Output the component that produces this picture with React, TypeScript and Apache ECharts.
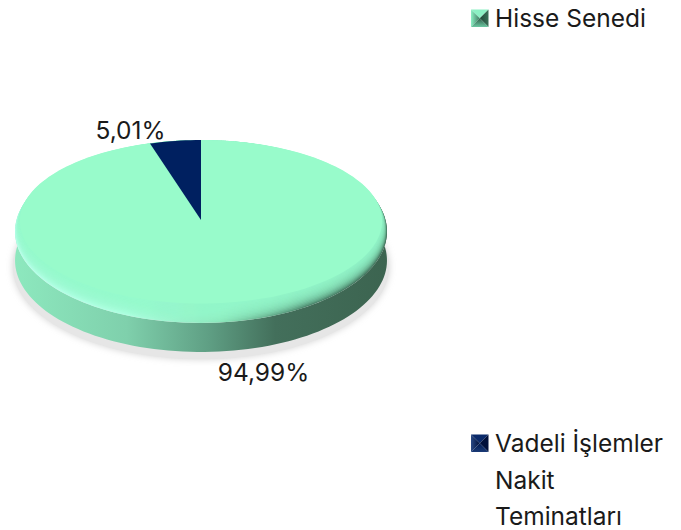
import React, { useEffect, useRef } from "react";
import * as echarts from "echarts";

const sliceNames = ["Hisse Senedi", "Vadeli İşlemler Nakit Teminatları"];
const sliceValues = [94.99, 5.01];
const sliceLabels = ["94,99%", "5,01%"];
const sliceColors = ["#98FBCB", "#002060"];
const legendLines = [["Hisse Senedi"], ["Vadeli İşlemler", "Nakit", "Teminatları"]];

const FONT = "Inter, 'Open Sans', sans-serif";
const CX = 201, CY = 220, A = 184.5, B = 90, K = 0.1257, DEPTH = 29;
const STEPS = 180;

// perspective projection of a point on the unit disc (angle clockwise from 12 o'clock)
function proj(theta: number, r = 1, dy = 0): [number, number] {
  const x = r * Math.sin(theta), y = r * Math.cos(theta);
  const w = 1 + K * y;
  return [CX + (A * x) / w, CY - (B * y) / w + dy];
}
function arc(a0: number, a1: number, r = 1, dy = 0) {
  const pts: [number, number][] = [];
  const n = Math.max(2, Math.ceil((Math.abs(a1 - a0) / (2 * Math.PI)) * STEPS));
  for (let i = 0; i <= n; i++) pts.push(proj(a0 + ((a1 - a0) * i) / n, r, dy));
  return pts;
}
const total = sliceValues.reduce((a, b) => a + b, 0);
const sliceAngles = [
  [0, (sliceValues[0] / total) * 2 * Math.PI],
  [(sliceValues[0] / total) * 2 * Math.PI, 2 * Math.PI],
];
const RIGHT = Math.PI / 2 - 0.33;
const LEFT = (3 * Math.PI) / 2 + 0.33;

function makeSeries(idx: number) {
  return {
    type: "custom",
    name: sliceNames[idx],
    coordinateSystem: "none",
    silent: true,
    z: 5,
    data: [[sliceValues[idx]]],
    renderItem: () => {
      const [a0, a1] = sliceAngles[idx];
      if (idx === 0) return { type: "group", children: [] };
      return {
        type: "polygon",
        shape: { points: [[CX, CY], ...arc(a0, a1)] },
        style: { fill: sliceColors[idx] },
      };
    },
  };
}

const g = (x0: number, y0: number, x1: number, y1: number, stops: [number, string][]) =>
  new echarts.graphic.LinearGradient(x0, y0, x1, y1, stops.map(([offset, color]) => ({ offset, color })));

function legendIcon(x: number, y: number, s: number, c: { t: any; l: any; r: any; b: any }) {
  const m: [number, number] = [x + s / 2, y + s / 2];
  const tl: [number, number] = [x, y], tr: [number, number] = [x + s, y];
  const bl: [number, number] = [x, y + s], br: [number, number] = [x + s, y + s];
  return [
    { type: "polygon", shape: { points: [tl, tr, m] }, style: { fill: c.t } },
    { type: "polygon", shape: { points: [tl, bl, m] }, style: { fill: c.l } },
    { type: "polygon", shape: { points: [tr, br, m] }, style: { fill: c.r } },
    { type: "polygon", shape: { points: [bl, br, m] }, style: { fill: c.b } },
  ];
}

function legendText(lines: string[], x: number, y: number) {
  return lines.map((t, i) => ({
    type: "text",
    x,
    y: y + i * 36.5,
    style: { text: t, fill: "#1a1a1a", font: `400 24.5px ${FONT}`, textVerticalAlign: "middle" },
  }));
}

function label(text: string, x: number, y: number) {
  return {
    type: "text",
    x,
    y,
    style: { text, fill: "#1a1a1a", font: `400 24.5px ${FONT}`, textAlign: "center", textVerticalAlign: "middle" },
  };
}

const sideBody = [...arc(RIGHT - 0.2, LEFT + 0.2), ...arc(LEFT + 0.2, RIGHT - 0.2, 1, DEPTH)];

// A flat-top layer: the rim at the far side stays on the outline, and the near side lifts by `lift`.
function faceLayer(lift: number) {
  const pts: [number, number][] = [];
  for (let i = 0; i <= STEPS; i++) {
    const t = (i / STEPS) * 2 * Math.PI;
    const near = (1 - Math.cos(t)) / 2;
    const [x, y] = proj(t, 1 - 0.04 * near * (lift / 12));
    pts.push([x, y - lift * near]);
  }
  return pts;
}
const faceLifts = [1, 2, 3, 4, 5, 6, 7, 8, 9, 10, 11, 12, 13, 14];

export default function App() {
  const ref = useRef<HTMLDivElement>(null);
  useEffect(() => {
    const chart = echarts.init(ref.current!, undefined, { renderer: "svg" });
    const graphic: any[] = [
      {
        type: "polygon",
        z: 0,
        shape: { points: arc(0, 2 * Math.PI, 1.012, DEPTH + 6) },
        style: { fill: "#e6e6e6", shadowBlur: 7, shadowColor: "#d4d4d4" },
      },
      {
        type: "polygon",
        z: 1,
        shape: { points: sideBody },
        style: {
          fill: g(0, 0, 1, 0, [
            [0, "#8DE8BE"],
            [0.3, "#7FD0AC"],
            [0.52, "#5F9F84"],
            [0.7, "#436F5B"],
            [1, "#3C6450"],
          ]),
        },
      },
      {
        type: "polygon",
        z: 2,
        shape: { points: arc(0, 2 * Math.PI) },
        style: {
          fill: g(0, 0, 1, 0, [
            [0, "#B8FFEA"],
            [0.3, "#ADFFE0"],
            [0.55, "#8CE8BC"],
            [0.78, "#4F8A70"],
            [1, "#40705A"],
          ]),
        },
      },
      ...faceLifts.map((lift) => ({
        type: "polygon",
        z: 3,
        shape: { points: faceLayer(lift) },
        style: { fill: sliceColors[0], opacity: lift === 14 ? 1 : 0.2 },
      })),
      ...legendIcon(471, 9.5, 17.5, {
        t: "#8CF0C4",
        l: g(0, 0, 1, 0, [[0, "#8CF0C4"], [1, "#3E7C62"]]),
        r: g(0, 0, 1, 0, [[0, "#1E4636"], [1, "#3A7058"]]),
        b: g(0, 1, 0, 0, [[0, "#6CC8A2"], [1, "#2E5C48"]]),
      }),
      ...legendIcon(471, 434.5, 17.5, {
        t: "#0A2A6A",
        l: g(0, 0, 1, 0, [[0, "#2A4A86"], [1, "#00103A"]]),
        r: "#00103A",
        b: g(0, 1, 0, 0, [[0, "#1A3A76"], [1, "#001A50"]]),
      }),
      ...legendText(legendLines[0], 495, 18),
      ...legendText(legendLines[1], 495, 443),
      label(sliceLabels[1], 130.5, 129.5),
      label(sliceLabels[0], 263.5, 372),
    ];
    chart.setOption({
      animation: false,
      graphic,
      series: sliceValues.map((_, i) => makeSeries(i)),
    });
    return () => chart.dispose();
  }, []);
  return <div ref={ref} style={{ width: 681, height: 530, position: "absolute", left: 0, top: 0 }} />;
}
